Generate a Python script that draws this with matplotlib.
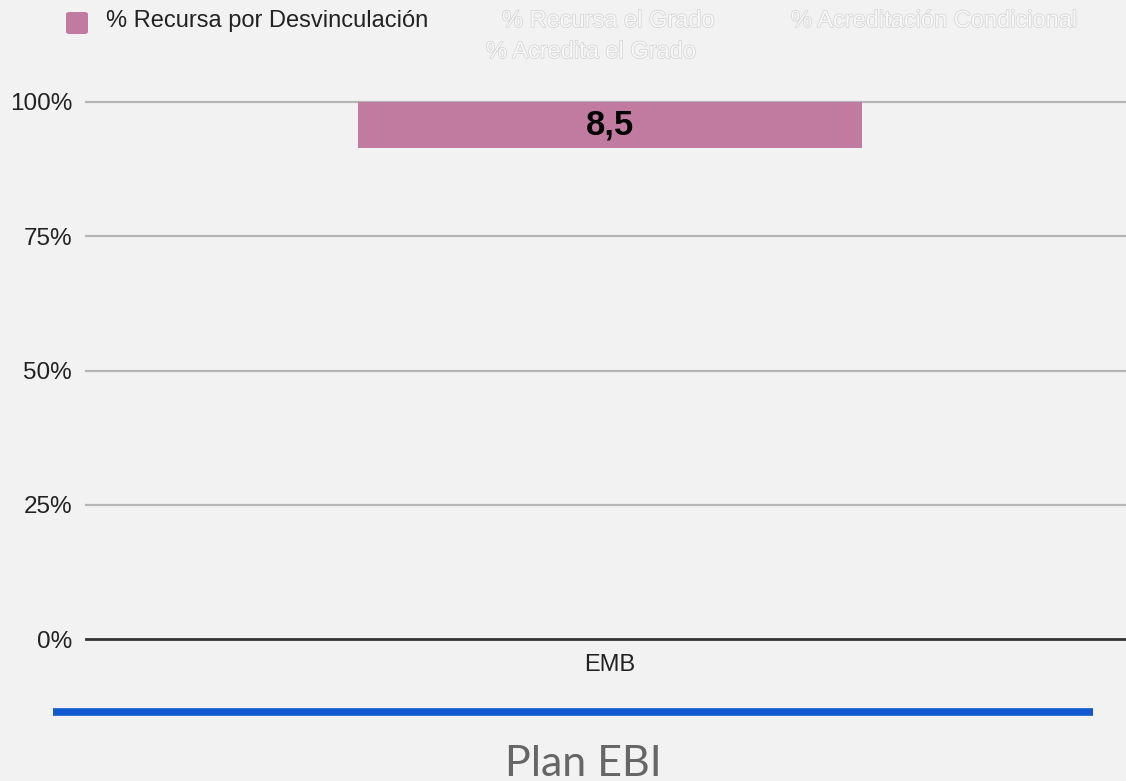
import matplotlib
matplotlib.use("Agg")
import matplotlib.pyplot as plt
import matplotlib.patheffects as pe
from matplotlib.patches import FancyBboxPatch

categories = ["EMB"]
series_names = ["% Acredita el Grado", "% Acreditación Condicional",
                "% Recursa el Grado", "% Recursa por Desvinculación"]
series_values = {
    "% Acredita el Grado": [91.5],
    "% Acreditación Condicional": [0.0],
    "% Recursa el Grado": [0.0],
    "% Recursa por Desvinculación": [8.5],
}
visible = {"% Recursa por Desvinculación": "#c27ba0"}
yticks = [0, 25, 50, 75, 100]
ytick_labels = ["0%", "25%", "50%", "75%", "100%"]
title = "Plan EBI"

BG = "#f2f2f2"
plt.rcParams['font.family'] = ['Liberation Sans', 'DejaVu Sans']

fig = plt.figure(figsize=(11.26, 7.81), dpi=100)
fig.patch.set_facecolor(BG)
ax = fig.add_axes([86/1126, 1-639/781, 1-86/1126, (639-102)/781])
ax.set_facecolor(BG)

x = list(range(len(categories)))
bottom = [0.0]*len(categories)
for name in series_names:
    vals = series_values[name]
    if name in visible:
        bars = ax.bar(x, vals, bottom=bottom, width=0.969, color=visible[name],
                      zorder=3, clip_on=False)
        for b, v in zip(bars, vals):
            ax.text(b.get_x()+b.get_width()/2, b.get_y()+b.get_height()/2,
                    f"{v:.1f}".replace(".", ","), ha="center", va="center",
                    fontsize=25, fontweight="bold", color="black", zorder=4)
    else:
        ax.bar(x, vals, bottom=bottom, width=0.969, color="none",
               edgecolor="none", zorder=3)
    bottom = [b + v for b, v in zip(bottom, vals)]

ax.set_xlim(-1.008, 0.992)
ax.set_ylim(0, 100)
ax.set_yticks(yticks)
ax.set_yticklabels(ytick_labels, fontsize=17.5, color="#222222")
ax.set_xticks(x)
ax.set_xticklabels(categories, fontsize=17, color="#222222")
ax.tick_params(axis="both", length=0)
ax.tick_params(axis="y", pad=10)
ax.tick_params(axis="x", pad=11)
for s in ax.spines.values():
    s.set_visible(False)
for t in yticks[1:]:
    ax.axhline(t, color="#b5b5b5", lw=1.6, zorder=1, clip_on=False)
ax.axhline(0, color="#333333", lw=2.0, zorder=2, clip_on=False)

# legend
H = 781
def fy(py):
    return 1 - py/H
sq = FancyBboxPatch((66/1126, fy(34)), 22/1126, 22/781,
                    boxstyle="round,pad=0,rounding_size=0.003",
                    transform=fig.transFigure, facecolor="#c27ba0",
                    edgecolor="none")
fig.patches.append(sq)
fig.text(106/1126, fy(21), "% Recursa por Desvinculación", fontsize=17,
         color="#222222", va="center", ha="left")
ghost = [pe.withStroke(linewidth=1.0, foreground="#d2d2d2")]
for label, px, py in [("% Recursa el Grado", 502, 21),
                      ("% Acreditación Condicional", 791, 21),
                      ("% Acredita el Grado", 486, 52)]:
    fig.text(px/1126, fy(py), label, fontsize=17, color="#f8f8f8",
             va="center", ha="left", path_effects=ghost)

# blue separator and title
fig.add_artist(plt.Line2D([53/1126, 1093/1126], [fy(712), fy(712)],
                          transform=fig.transFigure, color="#1158d1", lw=5.5,
                          solid_capstyle="butt"))
fig.text(583/1126, fy(776), title, fontsize=31, color="#666666",
         family=["Lato", "DejaVu Sans"], ha="center", va="baseline")

fig.savefig("out.png", dpi=100, facecolor=BG)
